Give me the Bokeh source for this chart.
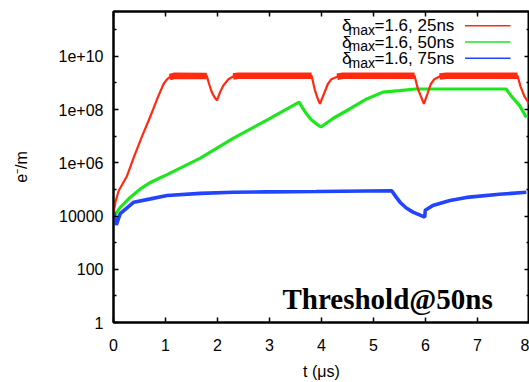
import numpy as np
from bokeh.plotting import figure
from bokeh.models import Range1d, FixedTicker, LinearAxis, LogAxis, Label, CustomJSTickFormatter
from bokeh.embed import file_html
from bokeh.resources import INLINE

# ---------------- data ----------------
red_t = [0, 0.04, 0.1, 0.26, 0.39, 0.55, 0.71, 0.85, 0.96, 1.02, 1.08, 1.18,
         1.795, 1.84, 1.89, 1.94, 1.99, 2.05, 2.11, 2.21, 2.3, 2.4,
         3.81, 3.87, 3.92, 3.97, 4.05, 4.12, 4.19, 4.3, 4.41,
         5.79, 5.85, 5.91, 5.97, 6.04, 6.1, 6.17, 6.27, 6.4,
         7.77, 7.83, 7.9, 8.0]
red_v = [1.26e4, 3.5e4, 8.9e4, 3.2e5, 1.6e6, 1.0e7, 5.6e7, 2.8e8, 8.9e8, 1.3e9, 1.66e9, 1.86e9,
         1.82e9, 8.9e8, 4.5e8, 2.95e8, 2.2e8, 4.5e8, 7.8e8, 1.38e9, 1.74e9, 1.86e9,
         1.86e9, 5.6e8, 2.8e8, 1.62e8, 4.0e8, 8.9e8, 1.38e9, 1.7e9, 1.86e9,
         1.86e9, 6.3e8, 3.2e8, 1.62e8, 4.0e8, 8.9e8, 1.38e9, 1.74e9, 1.86e9,
         1.86e9, 7.1e8, 3.2e8, 1.58e8]

green_t = [0, 0.03, 0.13, 0.32, 0.51, 0.71, 0.9, 1.03, 1.67, 2.3, 2.95, 3.57,
           3.64, 3.71, 3.8, 3.9, 3.99,
           4.22, 4.55, 4.87, 5.18, 5.5, 5.8,
           7.55, 7.65, 7.81, 7.94]
green_v = [7.1e3, 1.12e4, 2.1e4, 5.0e4, 1.02e5, 1.82e5, 2.75e5, 3.6e5, 1.5e6, 8.3e6, 4.0e7, 1.9e8,
           1.12e8, 6.9e7, 4.2e7, 2.9e7, 2.2e7,
           4.6e7, 1.07e8, 2.5e8, 4.5e8, 5.1e8, 5.9e8,
           5.9e8, 3.2e8, 1.4e8, 5.0e7]

blue_t = [0, 0.054, 0.13, 0.39, 0.71, 1.03, 1.67, 2.3, 2.95, 3.9, 5.35,
          5.44, 5.51, 5.63, 5.76, 5.985, 5.996, 6.14, 6.47, 6.79, 7.42, 7.94]
blue_v = [1.5e4, 4.6e3, 1.23e4, 3.3e4, 4.4e4, 5.9e4, 7.1e4, 7.8e4, 8.1e4, 8.3e4, 8.9e4,
          5.0e4, 3.3e4, 2.0e4, 1.4e4, 9.1e3, 1.66e4, 2.5e4, 3.8e4, 5.0e4, 6.6e4, 7.8e4]

series_labels = ["=1.6, 25ns", "=1.6, 50ns", "=1.6, 75ns"]
series_colors = ["#ff2a10", "#1ee61e", "#2244ff"]

x_ticks = [0, 1, 2, 3, 4, 5, 6, 7, 8]
y_major = [1, 1e2, 1e4, 1e6, 1e8, 1e10]
y_major_labels = ["1", "100", "10000", "1e+06", "1e+08", "1e+10"]
y_minor = [10, 1e3, 1e5, 1e7, 1e9, 1e11]

# ---------------- layout ----------------
W, H = 529, 382
ML, MR, MT, MB = 113, 0, 11, 55
X_END = 8.0
PX_PER_DEC = 27.05
frame_w = W - ML - MR
frame_h = H - MT - MB
PX_PER_US = frame_w / X_END
y_end = 10 ** (frame_h / PX_PER_DEC)

FONT = "Liberation Sans"

p = figure(width=W, height=H, output_backend="svg", toolbar_location=None,
           y_axis_type="log",
           x_range=Range1d(0, X_END), y_range=Range1d(1, y_end),
           min_border_left=ML, min_border_right=MR, min_border_top=MT, min_border_bottom=MB)
p.grid.visible = False
p.background_fill_color = "white"
p.border_fill_color = "white"
p.outline_line_color = "black"
p.outline_line_width = 2


def style_axis(ax):
    ax.axis_line_width = 2
    ax.axis_line_color = "black"
    ax.major_tick_in = 5
    ax.major_tick_out = 0
    ax.minor_tick_in = 3
    ax.minor_tick_out = 0
    ax.major_tick_line_width = 1.5
    ax.minor_tick_line_width = 1.5
    ax.major_label_text_font = FONT
    ax.major_label_text_font_size = "16px"
    ax.major_label_text_color = "black"
    ax.axis_label_text_font = FONT
    ax.axis_label_text_font_size = "16px"
    ax.axis_label_text_font_style = "normal"
    ax.axis_label_text_color = "black"


xt = FixedTicker(ticks=x_ticks, minor_ticks=[])
yt = FixedTicker(ticks=y_major, minor_ticks=y_minor)

p.xaxis.ticker = xt
p.yaxis.ticker = yt
p.yaxis.major_label_overrides = {v: s for v, s in zip(y_major, y_major_labels)}
style_axis(p.xaxis[0])
style_axis(p.yaxis[0])
p.xaxis.axis_label = "t (μs)"
p.yaxis.axis_label = "e⁻/m"
p.xaxis.major_label_standoff = 16
p.yaxis.major_label_standoff = 10
p.xaxis.axis_label_standoff = 9
p.yaxis.axis_label_standoff = 26

blank = CustomJSTickFormatter(code="return '';")
top = LinearAxis(ticker=xt, formatter=blank)
style_axis(top)
top.major_label_standoff = 0
p.add_layout(top, "above")
right = LogAxis(ticker=yt, formatter=blank)
style_axis(right)
right.major_label_standoff = 0
p.add_layout(right, "right")

# ---------------- curves ----------------
rv = np.array(red_v, dtype=float)
red_plateau = np.where(rv >= 1.5e9, rv, np.nan)

p.line(green_t, green_v, line_color=series_colors[1], line_width=3.2)
p.line(blue_t, blue_v, line_color=series_colors[2], line_width=3.6)
p.line(red_t, red_v, line_color=series_colors[0], line_width=2.2)
p.line(red_t, red_plateau, line_color=series_colors[0], line_width=6.5)

# ---------------- legend (manual: label left, sample right) ----------------
def tx(px):
    return (px - ML) / PX_PER_US


def ty(py):
    return 10 ** ((MT + frame_h - py) / PX_PER_DEC)


rows_py = [25.5, 42.0, 58.5]
for lab, col, py in zip(series_labels, series_colors, rows_py):
    p.add_layout(Label(x=tx(341.5), y=ty(py), text="δ", text_font=FONT, text_color="black",
                       text_font_size="17px", text_baseline="middle", text_align="left"))
    p.add_layout(Label(x=tx(348), y=ty(py + 4.5), text="max", text_font=FONT, text_color="black",
                       text_font_size="14px", text_baseline="middle", text_align="left"))
    p.add_layout(Label(x=tx(374), y=ty(py), text=lab, text_font=FONT, text_color="black",
                       text_font_size="17px", text_baseline="middle", text_align="left"))
    p.segment(x0=[tx(464.5)], x1=[tx(510)], y0=[ty(py)], y1=[ty(py)],
              line_color=col, line_width=1.3)

p.add_layout(Label(x=tx(282), y=ty(303.5), text="Threshold@50ns", text_color="black",
                   text_font="Liberation Serif", text_font_style="bold",
                   text_font_size="29px", text_baseline="alphabetic", text_align="left"))

open("out.html", "w").write(file_html(p, INLINE))
